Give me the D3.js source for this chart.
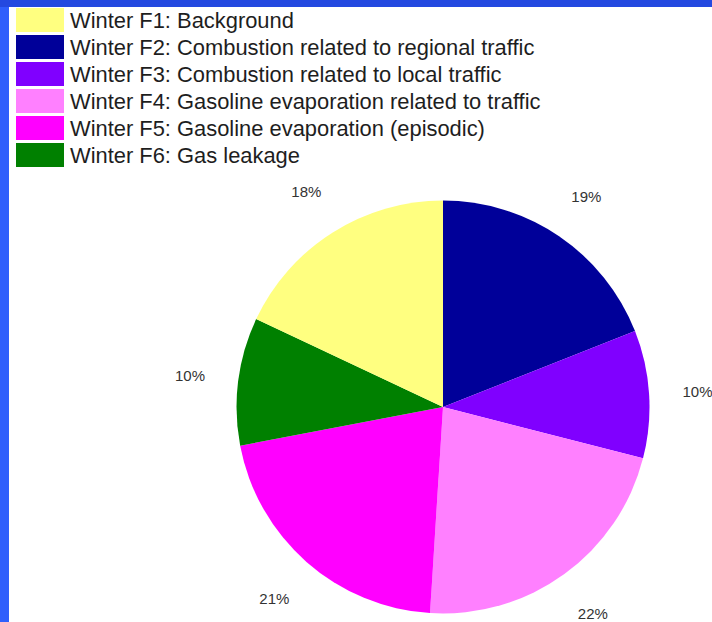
<!DOCTYPE html>
<html>
<head>
<meta charset="utf-8">
<script src="https://cdn.jsdelivr.net/npm/d3@7/dist/d3.min.js"></script>
<style>
  html, body { margin: 0; padding: 0; background: #ffffff; }
  svg { display: block; }
</style>
</head>
<body>
<svg id="chart" width="712" height="622"></svg>
<script>
// Winter source apportionment factors (share of total, %)
const factors = [
  "Winter F1: Background",
  "Winter F2: Combustion related to regional traffic",
  "Winter F3: Combustion related to local traffic",
  "Winter F4: Gasoline evaporation related to traffic",
  "Winter F5: Gasoline evaporation (episodic)",
  "Winter F6: Gas leakage"
];
const shares = [18, 19, 10, 22, 21, 10];
const colors = ["#ffff80", "#000099", "#8000ff", "#ff80ff", "#ff00ff", "#008000"];

// Pie is drawn clockwise starting at 12 o'clock with F2 first, F1 last
const sliceOrder = [1, 2, 3, 4, 5, 0];

const svg = d3.select("#chart");
const W = 712, H = 622;

// Blue frame around the white panel
svg.append("rect").attr("x", 0).attr("y", 0).attr("width", W).attr("height", H).attr("fill", "#2f5ffc");
svg.append("rect").attr("x", 0).attr("y", 0).attr("width", W).attr("height", 7).attr("fill", "#2449e0");
svg.append("rect").attr("x", 9).attr("y", 7).attr("width", W - 9).attr("height", H - 7).attr("fill", "#ffffff");

// Legend
const legend = svg.append("g").attr("transform", "translate(16,8)");
const rowH = 27;
const rows = legend.selectAll("g.row").data(factors).join("g")
  .attr("class", "row")
  .attr("transform", (d, i) => `translate(0,${i * rowH})`);
rows.append("rect")
  .attr("x", 0).attr("y", 0).attr("width", 48).attr("height", 24)
  .attr("fill", (d, i) => colors[i]);
rows.append("text")
  .attr("x", 54).attr("y", 20)
  .attr("font-family", "Liberation Sans, Arial, sans-serif")
  .attr("font-size", 21.9)
  .attr("fill", "#1e1e1e")
  .text(d => d);

// Pie
const cx = 443, cy = 407, R = 206.5, labelR = 255;
const data = sliceOrder.map(i => ({ idx: i, value: shares[i] }));
const pie = d3.pie().sort(null).value(d => d.value);
const arcs = pie(data);
const arc = d3.arc().innerRadius(0).outerRadius(R);
const labelArc = d3.arc().innerRadius(labelR).outerRadius(labelR);

const g = svg.append("g").attr("transform", `translate(${cx},${cy})`);
g.selectAll("path").data(arcs).join("path")
  .attr("d", arc)
  .attr("fill", d => colors[d.data.idx]);

// Percentage labels around the pie
g.selectAll("text.pct").data(arcs).join("text")
  .attr("class", "pct")
  .attr("x", d => labelArc.centroid(d)[0])
  .attr("y", d => labelArc.centroid(d)[1])
  .attr("text-anchor", "middle")
  .attr("dominant-baseline", "central")
  .attr("font-family", "Liberation Sans, Arial, sans-serif")
  .attr("font-size", 15)
  .attr("fill", "#333333")
  .text(d => d.data.value + "%");
</script>
</body>
</html>
